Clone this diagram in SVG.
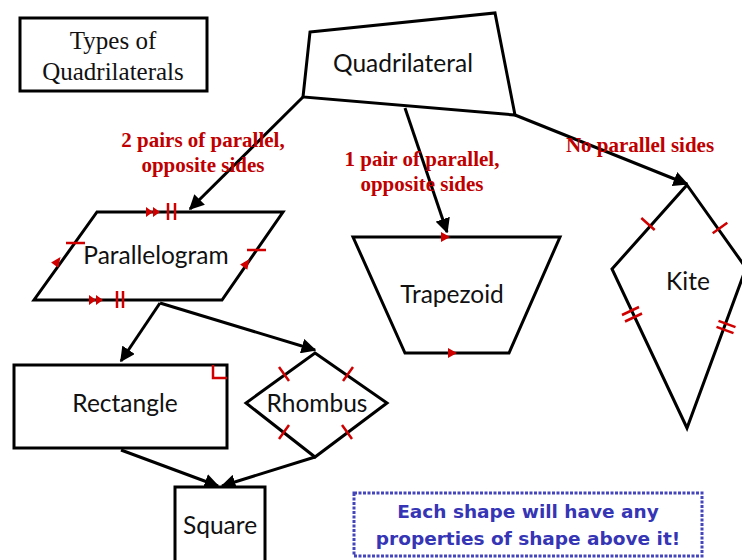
<svg xmlns="http://www.w3.org/2000/svg" width="742" height="560" viewBox="0 0 742 560">
<style>
.shape{fill:#fff;stroke:#000;stroke-width:3;stroke-linejoin:miter}
.hand{font-family:Lato,"Open Sans",sans-serif;font-size:24.5px;fill:#111;text-anchor:middle}
.lbl{font-family:"Liberation Serif",serif;font-weight:bold;font-size:21px;fill:#C00000;text-anchor:middle}
.conn{stroke:#000;stroke-width:3;fill:none;marker-end:url(#ah)}
.tick{stroke:#D00000;stroke-width:2.5;fill:none}
.rarr{fill:#D00000}
.note{font-family:"DejaVu Sans",Verdana,sans-serif;font-weight:bold;font-size:18.5px;fill:#3535B5;text-anchor:middle}
</style>
<defs>
<marker id="ah" viewBox="0 0 10 10" refX="9" refY="5" markerWidth="5" markerHeight="5" orient="auto" markerUnits="strokeWidth">
<path d="M0,0 L10,5 L0,10 Z" fill="#000"/>
</marker>
</defs>

<g id="title">
<rect x="20" y="18" width="187" height="73" fill="#fff" stroke="#000" stroke-width="3"/>
<text x="113" y="49" font-family="Liberation Serif,serif" font-size="25" text-anchor="middle" fill="#111">Types of</text>
<text x="113" y="80" font-family="Liberation Serif,serif" font-size="25" text-anchor="middle" fill="#111">Quadrilaterals</text>
</g>

<g id="connectors">
<line class="conn" x1="303" y1="97" x2="190" y2="209"/>
<line class="conn" x1="405" y1="108" x2="447" y2="232"/>
<line class="conn" x1="515" y1="115" x2="687" y2="184"/>
<line class="conn" x1="160" y1="303" x2="121" y2="361"/>
<line class="conn" x1="160" y1="303" x2="315" y2="350"/>
<line class="conn" x1="121" y1="450" x2="218" y2="486"/>
<line class="conn" x1="315" y1="457" x2="222" y2="486"/>
</g>

<g id="labels">
<text class="lbl" x="203" y="147">2 pairs of parallel,</text>
<text class="lbl" x="203" y="172">opposite sides</text>
<text class="lbl" x="422" y="166">1 pair of parallel,</text>
<text class="lbl" x="422" y="191">opposite sides</text>
<text class="lbl" x="640" y="152" font-size="21.5">No parallel sides</text>
</g>

<g id="quadrilateral">
<polygon class="shape" points="310,32 495,13 515,115 303,97"/>
<text class="hand" x="403" y="72">Quadrilateral</text>
</g>

<g id="parallelogram">
<polygon class="shape" points="97,212 283,212 222,300 34,300"/>
<text class="hand" x="156" y="264">Parallelogram</text>
<path class="rarr" d="M146,207 L153,212 L146,217 Z M153,207 L160,212 L153,217 Z"/>
<path class="tick" d="M168,203 V220 M175,203 V220"/>
<path class="rarr" d="M89,295 L96,300 L89,305 Z M96,295 L103,300 L96,305 Z"/>
<path class="tick" d="M117,291 V308 M123,291 V308"/>
<path class="tick" d="M66,243 H85 M247,250 H266"/>
<path class="rarr" d="M60.5,257.1 L58.3,267.8 L51.1,262.6 Z M249.5,259.1 L247.3,269.8 L240.1,264.6 Z"/>
</g>

<g id="trapezoid">
<polygon class="shape" points="353,237 560,237 509,353 405,353"/>
<text class="hand" x="452" y="303">Trapezoid</text>
<path class="rarr" d="M441,232 L450,237 L441,242 Z M448,348 L457,353 L448,358 Z"/>
</g>

<g id="kite">
<polygon class="shape" points="687,185 746,268 687,428 612,269"/>
<text class="hand" x="688" y="290">Kite</text>
<path class="tick" d="M641.3,218 L654.7,230 M712.7,233.2 L727.3,222.8"/>
<path class="tick" d="M622,315 L639,307 M625,321.5 L642,313.5"/>
<path class="tick" d="M718.5,320.8 L735.5,327.2 M716.5,326.8 L733.5,333.2"/>
</g>

<g id="rectangle">
<rect class="shape" x="14" y="365" width="213" height="83"/>
<path d="M213,365 V378 H227" fill="none" stroke="#D00000" stroke-width="2.5"/>
<text class="hand" x="125" y="412">Rectangle</text>
</g>

<g id="rhombus">
<polygon class="shape" points="315,353 387,403 315,457 246,403"/>
<text class="hand" x="317" y="412">Rhombus</text>
<path class="tick" d="M279,367 L289,381 M343,381 L353,367 M279,439 L289,425 M342,425 L352,439"/>
</g>

<g id="square">
<rect class="shape" x="175" y="487" width="90" height="80"/>
<text class="hand" x="220" y="534">Square</text>
</g>

<g id="note">
<rect x="354" y="493" width="348" height="63" fill="#fff" stroke="#4444BB" stroke-width="3" stroke-dasharray="3,1.5"/>
<text class="note" x="528" y="518">Each shape will have any</text>
<text class="note" x="528" y="545">properties of shape above it!</text>
</g>
</svg>
